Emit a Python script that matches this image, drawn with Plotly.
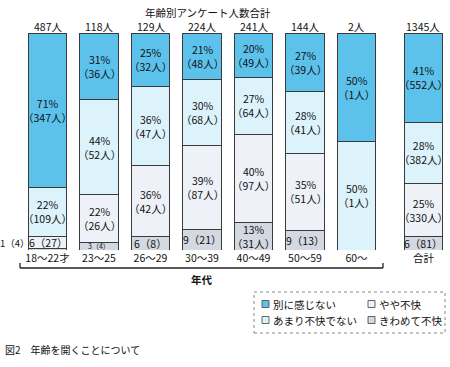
import plotly.graph_objects as go

categories = ["18～22才", "23～25", "26～29", "30～39", "40～49", "50～59", "60～", "合計"]
totals = [487, 118, 129, 224, 241, 144, 2, 1345]

series_names = ["きわめて不快", "やや不快", "あまり不快でない", "別に感じない"]
kiwa_pct = [1, 3, 6, 9, 13, 9, None, 6]
kiwa_n = [4, 4, 8, 21, 31, 13, 0, 81]
yaya_pct = [6, 22, 36, 39, 40, 35, None, 25]
yaya_n = [27, 26, 42, 87, 97, 51, 0, 330]
amari_pct = [22, 44, 36, 30, 27, 28, 50, 28]
amari_n = [109, 52, 47, 68, 64, 41, 1, 382]
betsu_pct = [71, 31, 25, 21, 20, 27, 50, 41]
betsu_n = [347, 36, 32, 48, 49, 39, 1, 552]

colors = ["#d4d8e0", "#eef1f8", "#dcf3fb", "#5cc2ec"]
x_pos = [0, 1, 2, 3, 4, 5, 6, 7.3]

FONT = "Noto Sans CJK JP"
W, H = 450, 367

pcts = [kiwa_pct, yaya_pct, amari_pct, betsu_pct]
counts = [kiwa_n, yaya_n, amari_n, betsu_n]

fig = go.Figure()
for name, c, col in zip(series_names, counts, colors):
    vals = [n / t * 100 for n, t in zip(c, totals)]
    fig.add_trace(go.Bar(
        x=x_pos, y=vals, name=name, width=0.75,
        marker=dict(color=col, line=dict(color="#3a3a3a", width=1)),
        showlegend=False, hoverinfo="skip"))

annotations = []
for i in range(len(categories)):
    base = 0.0
    for s in range(4):
        n = counts[s][i]
        p = pcts[s][i]
        h = n / totals[i] * 100
        if n == 0:
            continue
        mid = base + h / 2
        if s == 0 and i == 0:
            annotations.append(dict(
                x=x_pos[i] - 0.3, y=base + h / 2, xref="x", yref="y",
                text=f"{p}（{n}）", showarrow=True, arrowhead=0, arrowwidth=0.8,
                arrowcolor="#333", ax=-17, ay=-6, standoff=0, startstandoff=0,
                font=dict(family=FONT, size=9.5, color="#111")))
        elif (p is not None and p < 10) or (s == 1 and i == 0):
            size = 7 if h < 5 else 10.5
            annotations.append(dict(
                x=x_pos[i], y=mid, xref="x", yref="y", yanchor="middle",
                text=f"{p}（{n}）", showarrow=False,
                font=dict(family=FONT, size=size, color="#111")))
        else:
            annotations.append(dict(
                x=x_pos[i], y=mid, xref="x", yref="y", yanchor="middle",
                text=f"{p}%<br>（{n}人）", showarrow=False,
                font=dict(family=FONT, size=10.5, color="#111")))
        base += h
    annotations.append(dict(
        x=x_pos[i], y=100, xref="x", yref="y", yanchor="middle", yshift=7,
        text=f"{totals[i]}人", showarrow=False,
        font=dict(family=FONT, size=10.5, color="#111")))

annotations.append(dict(x=208 / W, y=1 - 13 / H, xref="paper", yref="paper",
                        xanchor="center", yanchor="middle",
                        text="年齢別アンケート人数合計", showarrow=False,
                        font=dict(family=FONT, size=10.5, color="#111")))
annotations.append(dict(x=202 / W, y=1 - 279 / H, xref="paper", yref="paper",
                        xanchor="center", yanchor="middle",
                        text="<b>年代</b>", showarrow=False,
                        font=dict(family=FONT, size=10.5, color="#111")))
annotations.append(dict(x=3 / W, y=1 - 349 / H, xref="paper", yref="paper",
                        xanchor="left", yanchor="middle",
                        text="図2　年齢を開くことについて", showarrow=False,
                        font=dict(family=FONT, size=10, color="#111")))

shapes = []
by = 1 - 268 / H
bt = 1 - 263 / H
for seg in [(20, by, 383, by), (20, by, 20, bt), (383, by, 383, bt)]:
    shapes.append(dict(type="line", xref="paper", yref="paper",
                       x0=seg[0] / W, y0=seg[1], x1=seg[2] / W, y1=seg[3],
                       line=dict(color="#222", width=1.3)))
shapes.append(dict(type="rect", xref="paper", yref="paper",
                   x0=254 / W, y0=1 - 333 / H, x1=445 / W, y1=1 - 292 / H,
                   line=dict(color="#888", width=1, dash="dot")))
legend_items = [("別に感じない", 3, 262, 304), ("やや不快", 1, 368, 304),
                ("あまり不快でない", 2, 262, 320), ("きわめて不快", 0, 368, 320)]
for label, ci, lx, ly in legend_items:
    shapes.append(dict(type="rect", xref="paper", yref="paper",
                       x0=lx / W, y0=1 - (ly + 3.5) / H, x1=(lx + 7) / W, y1=1 - (ly - 3.5) / H,
                       fillcolor=colors[ci], line=dict(color="#444", width=0.8)))
    annotations.append(dict(x=(lx + 9) / W, y=1 - ly / H, xref="paper", yref="paper",
                            xanchor="left", yanchor="middle", text=label, showarrow=False,
                            font=dict(family=FONT, size=10.5, color="#111")))

ppu = 51.5
fig.update_layout(
    width=W, height=H, barmode="stack",
    margin=dict(l=0, r=0, t=0, b=0, autoexpand=False),
    paper_bgcolor="white", plot_bgcolor="white",
    xaxis=dict(range=[-47.5 / ppu, (W - 47.5) / ppu], domain=[0, 1],
               tickvals=x_pos, ticktext=categories, showgrid=False,
               zeroline=False, showline=False, ticks="", automargin=False,
               tickfont=dict(family=FONT, size=10.5, color="#111")),
    yaxis=dict(range=[0, 100], domain=[1 - 250 / H, 1 - 33 / H], visible=False,
               automargin=False),
    annotations=annotations, shapes=shapes,
)
fig.write_html("out.html", config={"displayModeBar": False},
               post_script="document.body.style.margin='0';document.body.style.overflow='hidden';")
